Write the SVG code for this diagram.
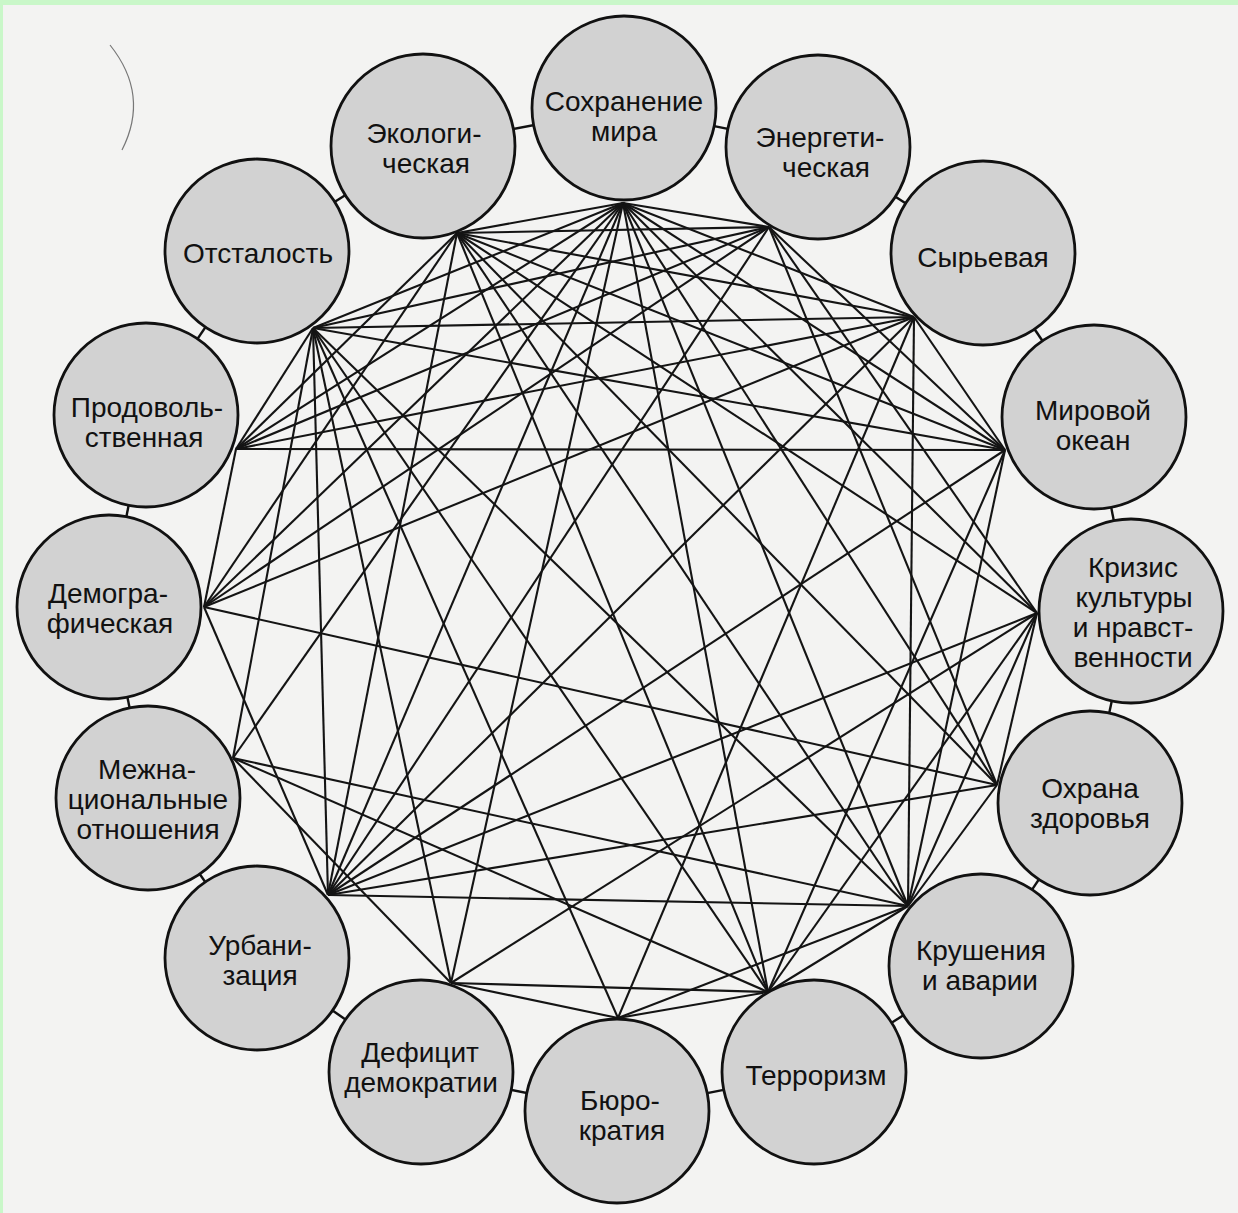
<svg xmlns="http://www.w3.org/2000/svg" width="1238" height="1213" viewBox="0 0 1238 1213">
<style>
.bg{fill:#f3f3f2}
.node circle{fill:#d2d2d2;stroke:#111;stroke-width:2.8}
.node text{font-family:"Liberation Sans",Arial,sans-serif;font-size:28px;fill:#111;text-anchor:middle}
#connectors line{stroke:#141414;stroke-width:2.1}
#ring line{stroke:#111;stroke-width:2.4}
</style>
<rect class="bg" x="0" y="0" width="1238" height="1213"/>
<rect x="0" y="0" width="1238" height="5" fill="#c9f7c9"/>
<rect x="0" y="0" width="3" height="1213" fill="#c9f7c9"/>
<path d="M110 45 Q150 95 122 150" fill="none" stroke="#777" stroke-width="1.2"/>
<g id="ring">
<line x1="624" y1="108" x2="423" y2="146"/>
<line x1="624" y1="108" x2="818" y2="147"/>
<line x1="818" y1="147" x2="983" y2="253"/>
<line x1="983" y1="253" x2="1094" y2="417"/>
<line x1="1094" y1="417" x2="1131" y2="611"/>
<line x1="1131" y1="611" x2="1090" y2="803"/>
<line x1="1090" y1="803" x2="981" y2="966"/>
<line x1="981" y1="966" x2="814" y2="1072"/>
<line x1="814" y1="1072" x2="617" y2="1111"/>
<line x1="617" y1="1111" x2="421" y2="1072"/>
<line x1="421" y1="1072" x2="257" y2="958"/>
<line x1="257" y1="958" x2="148" y2="798"/>
<line x1="148" y1="798" x2="109" y2="607"/>
<line x1="109" y1="607" x2="146" y2="415"/>
<line x1="146" y1="415" x2="257" y2="251"/>
<line x1="257" y1="251" x2="423" y2="146"/>
</g>
<g id="connectors">
<line x1="236" y1="449" x2="1005" y2="450"/>
<line x1="236" y1="449" x2="914" y2="317"/>
<line x1="236" y1="449" x2="769" y2="227"/>
<line x1="236" y1="449" x2="623" y2="203"/>
<line x1="236" y1="449" x2="457" y2="233"/>
<line x1="236" y1="449" x2="313" y2="328"/>
<line x1="236" y1="449" x2="204" y2="607"/>
<line x1="204" y1="607" x2="997" y2="785"/>
<line x1="204" y1="607" x2="328" y2="895"/>
<line x1="204" y1="607" x2="623" y2="203"/>
<line x1="204" y1="607" x2="457" y2="233"/>
<line x1="204" y1="607" x2="769" y2="227"/>
<line x1="204" y1="607" x2="914" y2="317"/>
<line x1="233" y1="758" x2="313" y2="328"/>
<line x1="233" y1="758" x2="623" y2="203"/>
<line x1="233" y1="758" x2="768" y2="992"/>
<line x1="233" y1="758" x2="908" y2="906"/>
<line x1="328" y1="895" x2="908" y2="906"/>
<line x1="328" y1="895" x2="997" y2="785"/>
<line x1="328" y1="895" x2="1037" y2="613"/>
<line x1="328" y1="895" x2="1005" y2="450"/>
<line x1="328" y1="895" x2="914" y2="317"/>
<line x1="328" y1="895" x2="769" y2="227"/>
<line x1="328" y1="895" x2="623" y2="203"/>
<line x1="328" y1="895" x2="457" y2="233"/>
<line x1="328" y1="895" x2="313" y2="328"/>
<line x1="451" y1="983" x2="768" y2="992"/>
<line x1="451" y1="983" x2="1037" y2="613"/>
<line x1="451" y1="983" x2="623" y2="203"/>
<line x1="451" y1="983" x2="313" y2="328"/>
<line x1="451" y1="983" x2="233" y2="758"/>
<line x1="451" y1="983" x2="618" y2="1018"/>
<line x1="618" y1="1018" x2="313" y2="328"/>
<line x1="618" y1="1018" x2="914" y2="317"/>
<line x1="618" y1="1018" x2="908" y2="906"/>
<line x1="618" y1="1018" x2="768" y2="992"/>
<line x1="768" y1="992" x2="313" y2="328"/>
<line x1="768" y1="992" x2="457" y2="233"/>
<line x1="768" y1="992" x2="623" y2="203"/>
<line x1="768" y1="992" x2="1037" y2="613"/>
<line x1="768" y1="992" x2="1005" y2="450"/>
<line x1="768" y1="992" x2="908" y2="906"/>
<line x1="908" y1="906" x2="914" y2="317"/>
<line x1="908" y1="906" x2="1005" y2="450"/>
<line x1="908" y1="906" x2="1037" y2="613"/>
<line x1="908" y1="906" x2="623" y2="203"/>
<line x1="908" y1="906" x2="457" y2="233"/>
<line x1="908" y1="906" x2="313" y2="328"/>
<line x1="908" y1="906" x2="997" y2="785"/>
<line x1="997" y1="785" x2="457" y2="233"/>
<line x1="997" y1="785" x2="769" y2="227"/>
<line x1="997" y1="785" x2="623" y2="203"/>
<line x1="997" y1="785" x2="1037" y2="613"/>
<line x1="1037" y1="613" x2="457" y2="233"/>
<line x1="1037" y1="613" x2="623" y2="203"/>
<line x1="1037" y1="613" x2="769" y2="227"/>
<line x1="1005" y1="450" x2="457" y2="233"/>
<line x1="1005" y1="450" x2="623" y2="203"/>
<line x1="1005" y1="450" x2="313" y2="328"/>
<line x1="1005" y1="450" x2="769" y2="227"/>
<line x1="1005" y1="450" x2="914" y2="317"/>
<line x1="914" y1="317" x2="457" y2="233"/>
<line x1="914" y1="317" x2="623" y2="203"/>
<line x1="914" y1="317" x2="313" y2="328"/>
<line x1="769" y1="227" x2="457" y2="233"/>
<line x1="769" y1="227" x2="313" y2="328"/>
<line x1="769" y1="227" x2="623" y2="203"/>
<line x1="623" y1="203" x2="313" y2="328"/>
<line x1="623" y1="203" x2="457" y2="233"/>
</g>
<g id="n-sohranenie" class="node"><circle cx="624" cy="108" r="92"/><text x="624" y="111">Сохранение</text><text x="624" y="141">мира</text></g>
<g id="n-ekolog" class="node"><circle cx="423" cy="146" r="92"/><text x="424" y="143">Экологи-</text><text x="426" y="173">ческая</text></g>
<g id="n-energ" class="node"><circle cx="818" cy="147" r="92"/><text x="820" y="147">Энергети-</text><text x="826" y="177">ческая</text></g>
<g id="n-syr" class="node"><circle cx="983" cy="253" r="92"/><text x="983" y="267">Сырьевая</text></g>
<g id="n-okean" class="node"><circle cx="1094" cy="417" r="92"/><text x="1093" y="420">Мировой</text><text x="1093" y="450">океан</text></g>
<g id="n-kultura" class="node"><circle cx="1131" cy="611" r="92"/><text x="1133" y="577">Кризис</text><text x="1134" y="607">культуры</text><text x="1133" y="637">и нравст-</text><text x="1133" y="667">венности</text></g>
<g id="n-zdorovie" class="node"><circle cx="1090" cy="803" r="92"/><text x="1090" y="798">Охрана</text><text x="1090" y="828">здоровья</text></g>
<g id="n-krush" class="node"><circle cx="981" cy="966" r="92"/><text x="981" y="960">Крушения</text><text x="980" y="990">и аварии</text></g>
<g id="n-terror" class="node"><circle cx="814" cy="1072" r="92"/><text x="816" y="1085">Терроризм</text></g>
<g id="n-biuro" class="node"><circle cx="617" cy="1111" r="92"/><text x="620" y="1110">Бюро-</text><text x="622" y="1140">кратия</text></g>
<g id="n-deficit" class="node"><circle cx="421" cy="1072" r="92"/><text x="420" y="1062">Дефицит</text><text x="421" y="1092">демократии</text></g>
<g id="n-urban" class="node"><circle cx="257" cy="958" r="92"/><text x="260" y="955">Урбани-</text><text x="260" y="985">зация</text></g>
<g id="n-mezhnac" class="node"><circle cx="148" cy="798" r="92"/><text x="147" y="779">Межна-</text><text x="148" y="809">циональные</text><text x="148" y="839">отношения</text></g>
<g id="n-demogr" class="node"><circle cx="109" cy="607" r="92"/><text x="108" y="603">Демогра-</text><text x="110" y="633">фическая</text></g>
<g id="n-prodov" class="node"><circle cx="146" cy="415" r="92"/><text x="147" y="417">Продоволь-</text><text x="144" y="447">ственная</text></g>
<g id="n-otstal" class="node"><circle cx="257" cy="251" r="92"/><text x="258" y="263">Отсталость</text></g>
</svg>
